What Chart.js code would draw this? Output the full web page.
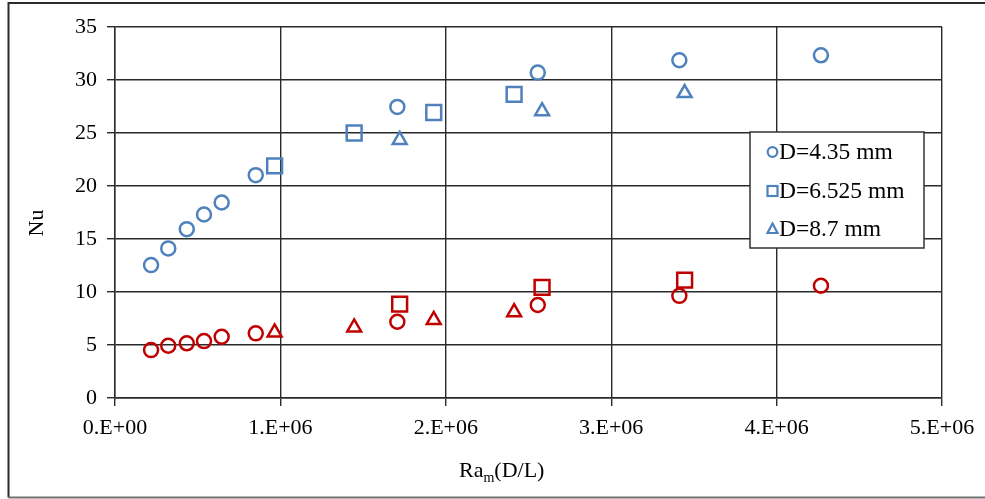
<!DOCTYPE html>
<html lang="en">
  <head>
    <meta charset="UTF-8" />
    <title>Nu vs Ra_m(D/L)</title>
    <script src="https://cdn.jsdelivr.net/npm/chart.js@4/dist/chart.umd.min.js"></script>
    <style>
      body {
        margin: 0;
        background: #fff;
      }
      #wrap {
        width: 985px;
        height: 499px;
        position: relative;
      }
    </style>
  </head>
  <body>
    <div id="wrap">
      <canvas id="nuChart" width="985" height="499"></canvas>
    </div>
    <script>
      // x values: Ra_m(D/L)
      const raSet1 = [0.218e6, 0.322e6, 0.434e6, 0.538e6, 0.645e6, 0.851e6, 1.707e6, 2.556e6, 3.412e6, 4.268e6]
      const raSet2 = [0.965e6, 1.446e6, 1.927e6, 2.413e6]
      const raSet3 = [1.721e6, 2.582e6, 3.444e6]

      // Nu values, upper (blue) group
      const nuBlueD435 = [12.54, 14.11, 15.93, 17.31, 18.44, 21.02, 27.46, 30.7, 31.86, 32.33]
      const nuBlueD6525 = [21.9, 25.0, 26.93, 28.65]
      const nuBlueD87 = [24.34, 27.06, 28.77]

      // Nu values, lower (red) group
      const nuRedD435 = [4.52, 4.93, 5.16, 5.37, 5.78, 6.1, 7.19, 8.77, 9.64, 10.59]
      const nuRedD6525 = [8.86, 10.43, 11.12]
      const nuRedD87 = [6.19, 6.66, 7.37, 8.1]

      const legendLabels = ['D=4.35 mm', 'D=6.525 mm', 'D=8.7 mm']
      const xTicks = [0, 1e6, 2e6, 3e6, 4e6, 5e6]

      const BLUE = '#4f81bd'
      const RED = '#c00000'
      const FONT = '"Liberation Serif", "Times New Roman", serif'

      const pts = (xs, ys) => xs.map((x, i) => ({ x: x, y: ys[i] }))

      function series(label, xs, ys, color, style, radius) {
        return {
          label: label,
          data: pts(xs, ys),
          pointStyle: style,
          pointRadius: radius,
          borderColor: color,
          backgroundColor: 'rgba(0,0,0,0)',
          borderWidth: 2.5,
          showLine: false
        }
      }

      // frame, axis titles and the legend box
      const decor = {
        id: 'decor',
        afterDraw(chart) {
          const ctx = chart.ctx
          ctx.save()

          // outer frame
          ctx.strokeStyle = '#2a2a2a'
          ctx.lineWidth = 2
          ctx.beginPath()
          ctx.moveTo(990, 3)
          ctx.lineTo(8.5, 3)
          ctx.lineTo(8.5, 497.5)
          ctx.stroke()
          ctx.strokeStyle = '#707070'
          ctx.beginPath()
          ctx.moveTo(8.5, 497.5)
          ctx.lineTo(990, 497.5)
          ctx.stroke()

          ctx.fillStyle = '#000'
          // y title
          ctx.font = '22px ' + FONT
          ctx.textAlign = 'center'
          ctx.textBaseline = 'middle'
          ctx.save()
          ctx.translate(37, 223)
          ctx.rotate(-Math.PI / 2)
          ctx.fillText('Nu', 0, 0)
          ctx.restore()

          // x title Ra_m(D/L)
          ctx.textAlign = 'left'
          ctx.textBaseline = 'alphabetic'
          let x = 459
          ctx.font = '22px ' + FONT
          ctx.fillText('Ra', x, 477)
          x += ctx.measureText('Ra').width
          ctx.font = '14px ' + FONT
          ctx.fillText('m', x, 482)
          x += ctx.measureText('m').width
          ctx.font = '22px ' + FONT
          ctx.fillText('(D/L)', x, 477)

          // legend
          ctx.fillStyle = '#fff'
          ctx.fillRect(750, 132, 174, 116)
          ctx.strokeStyle = '#333'
          ctx.lineWidth = 1.5
          ctx.strokeRect(750, 132, 174, 116)

          const rows = [152, 191, 229]
          ctx.strokeStyle = BLUE
          ctx.lineWidth = 2.2
          // circle
          ctx.beginPath()
          ctx.arc(772.5, rows[0], 4.8, 0, Math.PI * 2)
          ctx.stroke()
          // square
          ctx.strokeRect(767.5, rows[1] - 5, 10, 10)
          // triangle
          ctx.beginPath()
          ctx.moveTo(772.5, rows[2] - 5.5)
          ctx.lineTo(777.5, rows[2] + 4)
          ctx.lineTo(767.5, rows[2] + 4)
          ctx.closePath()
          ctx.stroke()

          ctx.fillStyle = '#000'
          ctx.font = '23.5px ' + FONT
          ctx.textBaseline = 'middle'
          legendLabels.forEach((t, i) => ctx.fillText(t, 779, rows[i] + 1))

          ctx.restore()
        }
      }

      const gridColor = '#2a2a2a'

      new Chart(document.getElementById('nuChart'), {
        type: 'scatter',
        data: {
          datasets: [
            series(legendLabels[0], raSet1, nuBlueD435, BLUE, 'circle', 7),
            series(legendLabels[1], raSet2, nuBlueD6525, BLUE, 'rect', 10.5),
            series(legendLabels[2], raSet3, nuBlueD87, BLUE, 'triangle', 8),
            series('red 4.35', raSet1, nuRedD435, RED, 'circle', 7),
            series('red 6.525', raSet3, nuRedD6525, RED, 'rect', 10.5),
            series('red 8.7', raSet2, nuRedD87, RED, 'triangle', 8)
          ]
        },
        options: {
          responsive: false,
          animation: false,
          events: [],
          layout: { padding: { left: 55, right: 43, top: 27, bottom: 51 } },
          plugins: {
            legend: { display: false },
            tooltip: { enabled: false }
          },
          scales: {
            x: {
              type: 'linear',
              min: 0,
              max: 5e6,
              afterFit: s => { s.height = 50 },
              afterBuildTicks: s => { s.ticks = xTicks.map(v => ({ value: v })) },
              grid: { color: gridColor, lineWidth: 1.4, tickLength: 8, drawTicks: true },
              border: { color: gridColor, width: 1.4 },
              ticks: {
                padding: 9,
                color: '#000',
                font: { family: FONT, size: 22 },
                callback: v => (v === 0 ? '0.E+00' : v / 1e6 + '.E+06')
              }
            },
            y: {
              min: 0,
              max: 35,
              afterFit: s => { s.width = 60 },
              grid: { color: gridColor, lineWidth: 1.4, tickLength: 8, drawTicks: true },
              border: { color: gridColor, width: 1.4 },
              ticks: {
                stepSize: 5,
                padding: 10,
                color: '#000',
                font: { family: FONT, size: 22 }
              }
            }
          }
        },
        plugins: [decor]
      })
    </script>
  </body>
</html>
